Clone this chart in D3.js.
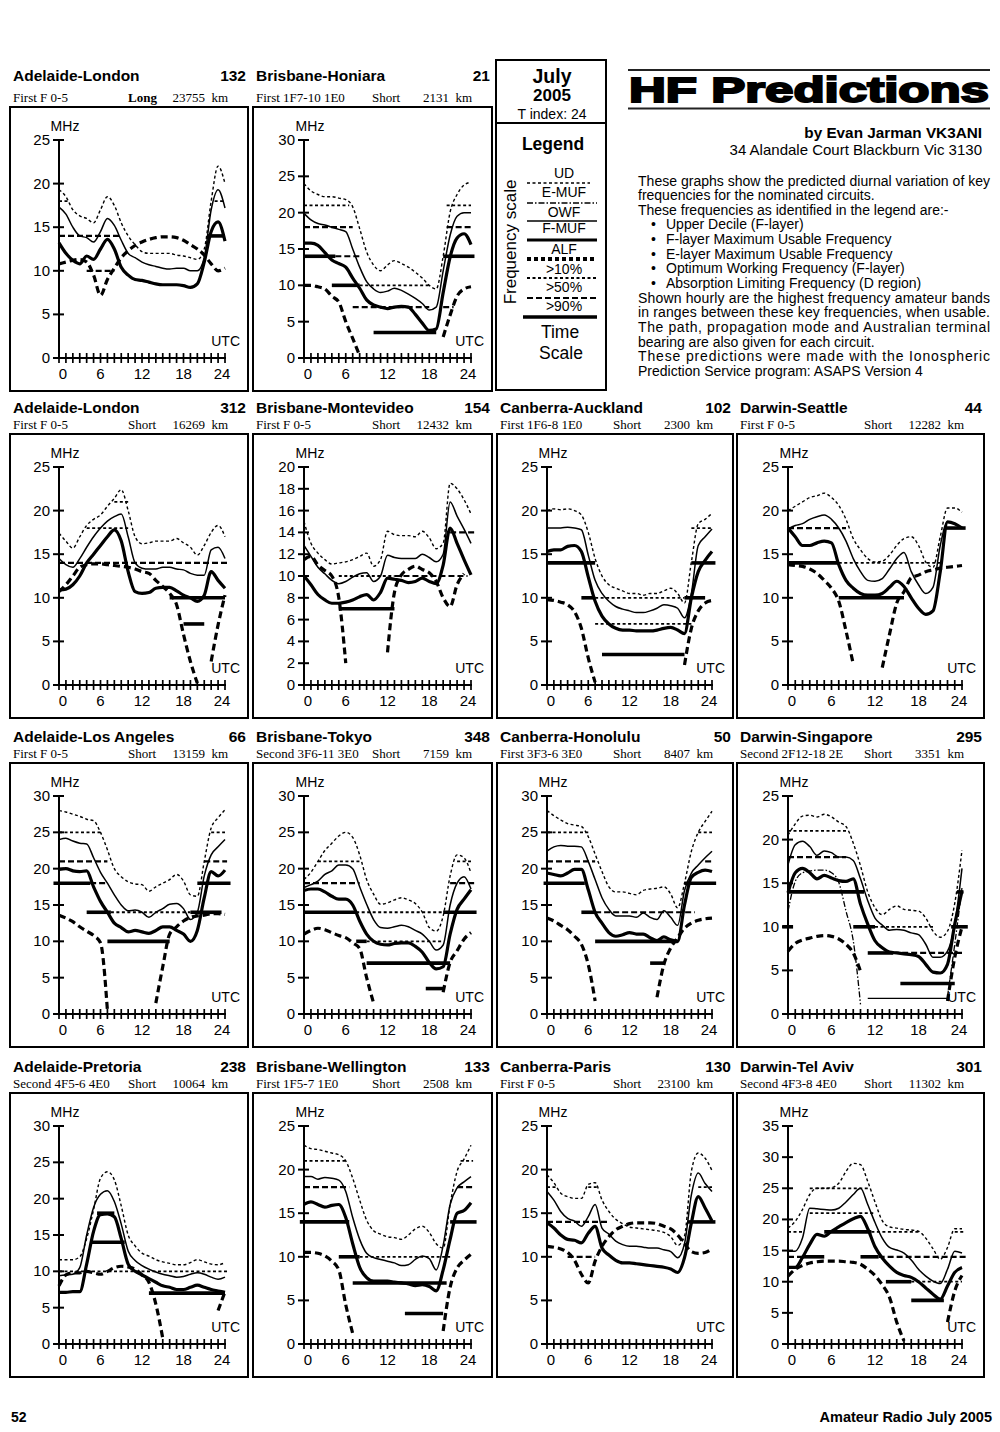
<!DOCTYPE html>
<html>
<head>
<meta charset="utf-8">
<script src="https://cdn.jsdelivr.net/npm/d3@7"></script>
<style>
  body { margin: 0; background: #fff; }
  svg text { font-family: "Liberation Sans", Arial, sans-serif; fill: #000; }
  .ttl { font-size: 15.5px; font-weight: bold; }
  .sub { font-family: "Liberation Serif", "Times New Roman", serif !important; font-size: 13px; }
  .tick { font-size: 15px; }
  .unit { font-size: 14px; }
  .para { font-size: 14px; }
</style>
</head>
<body>
<svg id="page" width="1000" height="1432"></svg>
<script>
// ---- circuit headers ----
var circuits  = ["Adelaide-London", "Brisbane-Honiara", "Adelaide-London", "Brisbane-Montevideo",
                 "Canberra-Auckland", "Darwin-Seattle", "Adelaide-Los Angeles", "Brisbane-Tokyo",
                 "Canberra-Honolulu", "Darwin-Singapore", "Adelaide-Pretoria", "Brisbane-Wellington",
                 "Canberra-Paris", "Darwin-Tel Aviv"];
var bearings  = ["132", "21", "312", "154", "102", "44", "66", "348", "50", "295", "238", "133", "130", "301"];
var modes     = ["First F 0-5", "First 1F7-10 1E0", "First F 0-5", "First F 0-5", "First 1F6-8 1E0",
                 "First F 0-5", "First F 0-5", "Second 3F6-11 3E0", "First 3F3-6 3E0", "Second 2F12-18 2E",
                 "Second 4F5-6 4E0", "First 1F5-7 1E0", "First F 0-5", "Second 4F3-8 4E0"];
var paths     = ["Long", "Short", "Short", "Short", "Short", "Short", "Short", "Short", "Short", "Short",
                 "Short", "Short", "Short", "Short"];
var distances = ["23755", "2131", "16269", "12432", "2300", "12282", "13159", "7159", "8407", "3351",
                 "10064", "2508", "23100", "11302"];
var yMaxes    = [25, 30, 25, 20, 25, 25, 30, 30, 30, 25, 30, 25, 25, 35];
var yTickSteps = [5, 5, 5, 2, 5, 5, 5, 5, 5, 5, 5, 5, 5, 5];
var xTickLabels = [0, 6, 12, 18, 24];
var hours = d3.range(25);

// ---- hourly key frequencies, MHz (hours 0..24) ----
var udValues = [
  [19.3,18.5,17,16.3,16,15.5,17,18.5,17.5,15.5,14,13,12.2,12,12,12,12,11.8,11.7,11.5,11.3,12.5,18,22,20],
  [24,23,22.5,22.2,22.2,22,21.8,20.8,17.8,14.6,12.8,12,12.8,13.4,13,12.5,11.8,11,10,9.5,14,20.1,22.5,23.8,24.2],
  [17.4,16.5,15.7,17,18.3,19,19.5,20.5,21.4,22.4,20,17,16.2,16.3,16.5,16.5,16.5,16.8,16.3,15.8,14.9,16,17.5,18.3,17],
  [15,13,12.1,11.5,11.1,11.2,11.3,11.5,11.8,12.1,10.9,11.5,14.1,13.8,13.7,13.7,13.6,14.1,13.5,12.5,13,18.5,18,17,15.7],
  [20,20.2,20.1,20.2,20,19.5,17.5,14.5,12.5,11.5,11.1,10.8,10.5,10.5,10.3,10.5,10.5,10.8,11.1,10.5,9.4,14.1,18.5,19,19.7],
  [20,20.5,21,21.5,21.7,22,21.5,20.6,19,16.8,15.5,14.5,14.1,14.2,14.9,16,16.8,17,16,14.1,13.5,17,20.3,20.3,19.8],
  [28,27.8,27.5,27.2,26.8,26.6,25,22.6,20,18.9,18.2,17.9,17.8,16.9,17.5,18,18.5,19.2,18.3,16.4,16.2,21,25.6,27,28.1],
  [18.5,19.5,21,22.5,23.5,24.5,25,24.3,21.9,18.5,16.5,15.1,15.3,15.7,16,15.7,15.2,14,11.9,11.4,13.5,19,21.9,21.5,19.4],
  [28,27.3,26.7,26.2,26,25.8,24.4,22,19.6,17.5,16.8,16.8,16.6,16.4,17,17.2,17.3,17.5,16.5,14.6,18,22.4,25,26.5,27.9],
  [20.5,21.8,22.7,22.8,22.6,22.9,22.6,22,21.5,19.6,17,14,12.2,11.4,12,12.4,12,11.9,11.8,11,9.5,8.8,9.5,12.7,18.8],
  [11.6,11.6,11.6,12,14.5,18.5,22.8,23.7,22.6,19,15,13.5,12.5,12.1,11.6,11.3,11.1,10.9,10.9,11.2,11.6,11.3,11,10.9,11.2],
  [22.8,22.4,22.3,22.1,21.9,21.7,21,19,16.5,14.2,13,12.6,12.3,12.2,12,12.5,13.2,13.5,12.8,11.5,11,16,19.8,21.2,22.8],
  [19.4,18.5,17.3,16.9,16.7,16.7,18.3,18.5,16.5,15.2,14.3,13.8,13.4,13.3,13.2,13.1,13,12.8,12.3,11.3,12.4,19.8,21.9,21.3,19.9],
  [18.6,19.7,21.6,24,25,25,25.1,25.8,27.7,29,28.8,26.1,22.8,19.8,18.8,18.6,18.4,18.3,18.1,17,15.3,13.6,15.5,18.5,18.5]
];
var fmufValues = [
  [17.3,16.5,15,14,13.8,13.3,14.5,16,15.2,13.5,12,11.5,11,10.7,10.5,10.3,10.2,10.3,10.3,10,10,11.5,17,19.3,17.2],
  [19.9,19,18.5,18.3,18,17.7,17.4,15,12.5,10.5,9.5,9,9.2,9.6,9.3,8.8,8.2,7.5,6.6,7,12,16.9,19.5,20,20],
  [14.5,13.8,13.5,14.5,15.8,17,18,18.8,19.3,19.6,17,14,13.4,13.3,13.3,13.5,13.5,13.3,13.2,12.8,12.6,12.6,15.5,15.8,14.5],
  [12.8,11.8,10.8,10.2,9.6,9.3,9.5,9.9,10.2,10.3,9.5,10,11.9,11.7,11.6,11.6,11.6,12,11.7,11.3,12,16.8,15.5,14.3,13],
  [18,18,18,18.1,18,17.8,14.9,12,10.5,9.6,9,8.7,8.5,8.3,8.3,8.5,8.8,9.2,9.1,8.8,7.7,10.5,16,17,17.9],
  [17.9,18.3,18.5,19,19.3,19.5,19,18,16.5,14.5,13,12,11.9,12.2,13.3,14.5,15.2,13,11.5,10.5,11.2,16,18.7,18.5,18],
  [24,24.2,23.8,23.5,23.4,21.5,19.5,18,16.4,15,14.2,14.3,14,13.3,14,14.5,15.1,15.2,14.5,13,14,19,21.9,23,24],
  [17.4,17.8,18.3,19.2,19.7,20.5,20.5,20,17.5,15.1,13,11.9,11.8,12,12.2,12,11.5,11,10,8.8,9.5,15,18,18.9,17.2],
  [22.4,23,23.2,23.1,23.1,23,21,18.5,16,14.4,13.5,13.5,13.5,13.3,13.9,13.3,13,14.2,13.3,12.2,17,19.4,20.5,21.5,22.4],
  [17.1,19.4,19.8,19.2,18.2,18.7,18.5,18,18,17.6,15.5,13,11,10.2,9.6,9.7,9.6,9.3,9.1,8,6.5,6.5,7.2,10.3,16.7],
  [9.4,9.5,9.6,10.5,15,18.8,20.6,21.1,19.6,16.5,12.8,11.5,10.8,10.3,9.9,9.6,9.4,9.2,9.3,9.6,9.8,9.6,9.2,8.9,9.2],
  [19.2,19.2,18.9,19.1,19,18.8,17.5,14.5,12,10.4,9.9,9.7,9.5,9.3,9,9.1,9.7,10.1,9.8,8.5,11.3,16,17.9,18.6,19.2],
  [17.5,16.5,15.2,14.4,14.1,13.5,14.6,16,13.3,12.6,11.8,11.4,11.2,11.2,11.1,11,11,10.8,10.6,9.9,11.5,17.1,19.6,18.4,17.5],
  [14.9,14.9,17,21.8,21.7,21.6,21.5,21.8,22.8,24,25,22.4,19.5,17,15.5,15.1,14.6,13.5,12,10.9,10.1,9.7,12,14.9,14.6]
];
var owfValues = [
  [13.2,12,11.2,10.8,11.7,11.3,12.5,13.6,12.5,10.4,9.5,9,8.9,8.7,8.5,8.4,8.4,8.4,8.3,8.1,8.5,11,14.5,15.6,13.4],
  [15.8,15.8,15.5,14.5,13.5,13,12.5,11,9.6,8,7.3,7,6.8,7,7.1,7,6,4.8,3.8,4,9,13.9,16.5,17.1,15.6],
  [10.9,11,11.5,12.5,14,15,16,17,17.8,16.5,13,10.7,10.5,10.6,11.1,11.2,11.2,10.8,10.3,10,9.6,10.3,13,12,11.1],
  [10,9.2,8.3,7.8,7.5,7.5,7.6,7.8,8.1,8.3,7.8,8.5,9.8,9.7,9.6,9.4,9.5,9.8,9.5,9.3,11,14.4,13,11.5,10.1],
  [15.3,15.5,15.5,15.9,16,15.3,12.4,9.6,7.9,7,6.5,6.3,6.3,6.2,6.2,6.2,6.3,6.5,6.6,6.3,5.9,10,13,14.3,15.3],
  [18,17,16,16,16.3,16.5,16.3,13.8,12,11.1,10.5,10.3,10.3,10.5,11.2,11.9,11.3,10,8.8,8.1,8.5,13,18.7,18.5,18],
  [19.9,20,19.7,19.6,19.7,17.5,15.5,14,12.5,11.9,11.3,11.5,11.3,11.1,11.5,12,12,11.5,11,10,11.5,16,19.6,19,19.8],
  [17,17.2,17.2,16.8,16.2,15.8,15.8,15,12.8,11,10,9.6,9.5,9.7,9.8,9.8,9.3,8.5,7.1,6.2,6.5,11,14.4,15.8,17.1],
  [19.4,19.2,19,19.4,19.9,19.9,17.1,14,12.5,11.2,10.7,10.9,11.2,11,11,10.5,10.1,10.6,10.2,10,15,18.8,19.5,19.8,19.6],
  [13.9,16.2,16.7,16.2,15.5,15.9,15.6,15.3,15.2,15.5,12.6,10.3,8.4,7.6,7.1,7,6.9,6.8,6.6,5.7,4.8,4.7,5.7,10.3,14.1],
  [7.1,7.1,7.2,7.2,11,15.5,17.8,17.9,17.5,14.5,11,10,9.5,9,8.5,8,7.8,7.5,7.5,7.8,8.1,7.8,7.5,7.3,7.1],
  [16,16.3,16,15.7,15.9,16,14.5,11.5,8.8,7.6,7.2,7.2,7.2,7.1,7,6.9,6.7,6.8,6.6,6.1,8.5,12,15,15.3,16.2],
  [13.9,13.3,12.5,12,11.9,11.6,12.7,13.5,11,10.2,9.6,9.3,9.3,9.2,9.1,9,8.9,8.8,8.6,8.2,9.9,13.9,16.9,15.6,14.1],
  [12.3,12.3,13.9,16,17.6,17.3,18.1,18.8,19.5,20.1,20.5,18.5,15.6,13.8,12.5,11.5,11,10.7,10,9,8,7.2,9.3,11.5,12.3]
];
var N = null;
var alfValues = [
  [10.8,11,11.2,11.3,11,9.5,7.2,9,10.3,11.5,12.3,12.9,13.3,13.6,13.8,13.9,13.9,13.8,13.5,13,12.5,11.8,10.8,10,10.3],
  [10,10,9.8,9.5,8.5,7.7,5,2.7,0.3,N,N,N,N,N,N,N,N,N,N,N,2.9,5.9,8.5,9.5,9.8],
  [10.7,11.5,12.5,13.5,13.8,13.9,13.9,13.8,13.7,13.6,13.5,13.3,13,12.8,12,11.3,10.5,9.2,5.8,2.7,0.2,N,2.7,6.9,10.3],
  [11.5,11.8,11,10.5,10,8,2,N,N,N,N,N,3,8.5,10.1,10.6,10.9,10.6,10.3,9.5,8,7.2,9.2,10.2,N],
  [9.8,9.7,9.5,9.2,8.4,6.5,3.1,0.3,N,N,N,N,N,N,N,N,N,N,N,N,2.3,6.5,8.5,9.4,9.7],
  [13.8,13.7,13.6,13.3,12.8,12,11.1,9.6,6.2,2.4,N,N,N,2,5.8,9.4,10.7,12.3,12.6,13,13.2,13.4,13.5,13.6,13.7],
  [13.6,13.2,12.7,12,11.4,10.8,9.8,0.5,N,N,N,N,N,N,1.5,6.5,11,12,12.8,13.3,13.5,13.6,13.8,13.8,13.7],
  [11,11.5,11.8,11.6,11.2,10.8,10.5,9.8,9,5,1.5,N,N,N,N,N,N,N,N,N,3,7.1,8.7,10.3,11.2],
  [13.2,12.8,12.2,11.6,10.7,9.6,6.8,1.8,N,N,N,N,N,N,N,N,2.3,6.8,9.1,10.5,11.8,12.5,12.9,13.1,13.2],
  [7.2,8.1,8.5,8.7,8.9,9,8.9,8.6,8,7,4.9,N,N,N,N,N,N,N,N,N,N,N,1.5,6.5,10],
  [8,9.5,9.8,9.8,10,9.8,9.6,10,10.5,10.7,10.6,10.3,9.5,8.5,5.5,0.8,N,N,N,N,N,N,N,4.6,7.2],
  [10.5,10.5,10.4,10.1,9.5,8.5,4.5,1.2,N,N,N,N,N,N,N,N,N,N,N,N,1.5,6.5,8.7,9.6,10.3],
  [11.2,11.1,10.9,10.5,9.6,8,7,9.5,11.2,12.3,13.1,13.5,13.8,13.9,13.9,13.9,13.8,13.5,13.2,12.5,11.5,10.6,10.4,10.5,10.9],
  [10.9,12,12.6,13,13.2,13.3,13.3,13.3,13.2,13.1,12.8,12,11,9.5,7.5,3.5,0.5,N,N,N,N,N,3.5,8.5,11]
];
var emufValues = [
  N, N, N, N, N, N, N, N, N,
  [11.8,15.2,16.2,16.4,16.5,16.5,16.2,15.1,11.8,8.4,1.1,N,N,N,N,N,N,N,N,N,N,N,2,8,14.5],
  N, N, N, N
];

// ---- amateur band segments: [from hour, to hour, MHz, probability class] ----
var bandSegments = [
  [[0,9,14,50],[0,1.5,18,10],[4,8,10,50],[21.5,24,14,90],[22.5,24,18,10]],
  [[0,6.5,21,10],[20.5,24,21,10],[0,7,18,50],[20.5,24,18,50],[0,4.5,14,90],[4.5,8,14,50],[20,24.5,14,90],
   [4,8,10,90],[8,18,10,10],[7,18,7,50],[20,21.5,7,50],[10,19,3.5,90]],
  [[0,24.5,14,50],[4,10,18,10],[8,10,21,10],[16,24,10,90],[18,21,7,90]],
  [[5,13,10,10],[13,23.5,10,50],[21,24.5,14,50],[5,13,7,90]],
  [[0,7,14,90],[21,24.5,14,90],[21,24,18,10],[5,7,10,90],[7,20,10,10],[20,23,10,90],[7,21,7,10],[8,20,3.5,90]],
  [[0,8,18,50],[21.5,24.5,18,90],[0,7,14,90],[7,21,14,10],[7,16,10,90]],
  [[0,6,25,10],[22,24,25,10],[0,7,21,50],[21,24.3,21,50],[-0.8,4.5,18,90],[4.5,7,18,50],[20,24.8,18,90],
   [4,7.5,14,90],[7.5,19,14,10],[19,23.5,14,90],[7,16,10,90]],
  [[2,8,21,10],[22,24,21,10],[0,8,18,50],[21,24.5,18,50],[0,7.5,14,90],[7.5,20,14,10],[20,24.8,14,90],
   [7.5,9,10,90],[9,20,10,10],[9,21,7,90],[17.5,20,3.5,90]],
  [[0,6,25,10],[22,24,25,10],[0,7,21,50],[23,24,21,50],[-0.5,5.5,18,90],[20,24.6,18,90],[5,7,14,90],
   [7,21.5,14,50],[7,19,10,90],[15,17,7,90]],
  [[0,8,21,10],[0,8,18,50],[0,10.5,14,90],[23.3,24.2,14,90],[-0.8,0.7,10,90],[9,12,10,90],[12,20,10,10],
   [22.5,24.8,10,90],[11,14.5,7,90],[14.5,24,7,50],[15.5,23,3.5,90],[11,22,1.8,"t"]],
  [[0,24.3,10,10],[5.5,8,18,90],[4.5,9.5,14,90],[13,24,7,90]],
  [[0,6,21,10],[22.5,24.3,21,10],[0,6.5,18,50],[22,24.3,18,50],[-0.6,6.5,14,90],[21,24.8,14,90],
   [5,8,10,90],[8,21,10,10],[7,20.5,7,90],[14.5,20,3.5,90]],
  [[0,1.5,18,10],[6,7.5,18,10],[22,24,18,10],[0,9,14,50],[20.5,24.5,14,90],[3,7,10,50]],
  [[3,11,25,10],[3,12,21,10],[0,2,18,10],[5,11.5,18,90],[11.5,18,18,10],[23,24.5,18,10],[0,2,14,50],
   [2,5,14,90],[10,12.5,14,90],[12.5,24.5,14,50],[13.5,17,10,90],[17,24,10,10],[17,21.5,7,90]]
];

// ---- legend and text ----
var legendLabels = ["UD", "E-MUF", "OWF", "F-MUF", "ALF", ">10%", ">50%", ">90%"];
var legendStyles = ["ud", "emuf", "fmuf", "owf", "alfLegend", "b10", "b50", "b90"];
var bulletItems = ["Upper Decile (F-layer)", "F-layer Maximum Usable Frequency",
                   "E-layer Maximum Usable Frequency", "Optimum Working Frequency (F-layer)",
                   "Absorption Limiting Frequency (D region)"];

var styles = {
  ud:   {w: 1.4, dash: "3,2.5"},
  fmuf: {w: 1.5, dash: null},
  owf:  {w: 3.2, dash: null},
  alf:  {w: 3.2, dash: "7,4"},
  emuf: {w: 1.3, dash: "6,2,1.5,2"},
  alfLegend: {w: 4, dash: "4,3"},
  b10:  {w: 1.8, dash: "3,2.5"},
  b50:  {w: 2.2, dash: "6,3"},
  b90:  {w: 3.6, dash: null},
  bt:   {w: 1.3, dash: null}
};

var svg = d3.select("#page");
svg.append("rect").attr("width", 1000).attr("height", 1432).attr("fill", "#fff");

function styled(sel, st) {
  return sel.attr("fill", "none").attr("stroke", "#000")
    .attr("stroke-width", st.w)
    .attr("stroke-dasharray", st.dash);
}

// panel layout
var rowTops = [107, 434, 763, 1093];
var colLefts = [10, 253, 497, 737];
var colWidths = [238, 239, 236, 247];
var colAxis = [49, 51, 50, 51];
var colSpan = [166, 167, 165, 174];
var boxH = 284;

function drawPanel(i) {
  var row = i < 2 ? 0 : 1 + Math.floor((i - 2) / 4);
  var col = i < 2 ? i : (i - 2) % 4;
  var w = colWidths[col];
  var g = svg.append("g").attr("transform", "translate(" + colLefts[col] + "," + rowTops[row] + ")");

  // header
  var ty = row === 0 ? -26 : -21;
  g.append("text").attr("class", "ttl").attr("x", 3).attr("y", ty).text(circuits[i]);
  g.append("text").attr("class", "ttl").attr("x", w - 2).attr("y", ty)
    .attr("text-anchor", "end").text(bearings[i]);
  g.append("text").attr("class", "sub").attr("x", 3).attr("y", -5).text(modes[i]);
  g.append("text").attr("class", "sub").attr("x", w - 120).attr("y", -5)
    .style("font-weight", paths[i] === "Long" ? "bold" : null).text(paths[i]);
  g.append("text").attr("class", "sub").attr("x", w - 20).attr("y", -5)
    .attr("text-anchor", "end").text(distances[i] + "\u00a0\u00a0km");

  g.append("rect").attr("width", w).attr("height", boxH)
    .attr("fill", "none").attr("stroke", "#000").attr("stroke-width", 2);

  var x = d3.scaleLinear().domain([0, 24]).range([colAxis[col], colAxis[col] + colSpan[col]]);
  var y = d3.scaleLinear().domain([0, yMaxes[i]]).range([251, 33]);
  var ax = x(0), y0 = y(0);

  // y axis
  g.append("line").attr("x1", ax).attr("x2", ax).attr("y1", y(yMaxes[i])).attr("y2", y0)
    .attr("stroke", "#000").attr("stroke-width", 2);
  var yt = d3.range(0, yMaxes[i] + 0.01, yTickSteps[i]);
  g.selectAll(".yt").data(yt).enter().append("line")
    .attr("x1", ax - 6).attr("x2", ax + 5)
    .attr("y1", function(d) { return y(d); }).attr("y2", function(d) { return y(d); })
    .attr("stroke", "#000").attr("stroke-width", 2);
  g.selectAll(".yl").data(yt).enter().append("text").attr("class", "tick")
    .attr("x", ax - 9).attr("y", function(d) { return y(d) + 5; })
    .attr("text-anchor", "end").text(function(d) { return d; });
  g.append("text").attr("class", "unit").attr("x", ax + 6).attr("y", y(yMaxes[i]) - 9)
    .attr("text-anchor", "middle").text("MHz");

  // x axis
  g.append("line").attr("x1", ax).attr("x2", x(24) + 1).attr("y1", y0).attr("y2", y0)
    .attr("stroke", "#000").attr("stroke-width", 2);
  g.selectAll(".xt").data(hours).enter().append("line")
    .attr("x1", function(d) { return x(d); }).attr("x2", function(d) { return x(d); })
    .attr("y1", y0 - 5).attr("y2", y0 + 5)
    .attr("stroke", "#000").attr("stroke-width", 1.7);
  g.selectAll(".xl").data(xTickLabels).enter().append("text").attr("class", "tick")
    .attr("x", function(d) { return x(d) + (d === 0 ? 4 : d === 24 ? -3 : 0); })
    .attr("y", y0 + 21).attr("text-anchor", "middle").text(function(d) { return d; });
  g.append("text").attr("class", "unit").attr("x", w - 8).attr("y", y0 - 12)
    .attr("text-anchor", "end").text("UTC");

  // curves
  var line = d3.line()
    .defined(function(d) { return d != null; })
    .x(function(d, k) { return x(hours[k]); })
    .y(function(d) { return y(d); })
    .curve(d3.curveMonotoneX);
  var set = [[alfValues[i], "alf"], [udValues[i], "ud"], [fmufValues[i], "fmuf"], [owfValues[i], "owf"]];
  if (emufValues[i]) set.push([emufValues[i], "emuf"]);
  set.forEach(function(s) {
    styled(g.append("path").attr("d", line(s[0])), styles[s[1]]).attr("stroke-linejoin", "round");
  });

  // band segments
  bandSegments[i].forEach(function(b) {
    var st = styles[b[3] === "t" ? "bt" : "b" + b[3]];
    styled(g.append("line")
      .attr("x1", x(b[0])).attr("x2", x(b[1]))
      .attr("y1", y(b[2])).attr("y2", y(b[2])), st);
  });
}

d3.range(circuits.length).forEach(drawPanel);

// ---- date / legend box ----
var lg = svg.append("g");
lg.append("rect").attr("x", 496).attr("y", 60).attr("width", 110).attr("height", 330)
  .attr("fill", "none").attr("stroke", "#000").attr("stroke-width", 2);
lg.append("line").attr("x1", 496).attr("x2", 606).attr("y1", 123).attr("y2", 123)
  .attr("stroke", "#000").attr("stroke-width", 2);
lg.append("text").attr("x", 552).attr("y", 83).attr("text-anchor", "middle")
  .style("font-size", "19.5px").style("font-weight", "bold").text("July");
lg.append("text").attr("x", 552).attr("y", 101).attr("text-anchor", "middle")
  .style("font-size", "17px").style("font-weight", "bold").text("2005");
lg.append("text").attr("x", 552).attr("y", 119).attr("text-anchor", "middle")
  .style("font-size", "14px").text("T index: 24");
lg.append("text").attr("x", 553).attr("y", 150).attr("text-anchor", "middle")
  .style("font-size", "17.5px").style("font-weight", "bold").text("Legend");
lg.append("text").attr("transform", "translate(516,242) rotate(-90)").attr("text-anchor", "middle")
  .style("font-size", "17px").text("Frequency scale");

var labelY = [178, 197, 217, 233, 254, 274, 292, 311];
var lineY = [183, 203, 221, 240, 259, 278, 298, 317];
legendLabels.forEach(function(lab, k) {
  lg.append("text").attr("x", 564).attr("y", labelY[k]).attr("text-anchor", "middle")
    .style("font-size", "14px").text(lab);
  styled(lg.append("line").attr("x1", k === 7 ? 523 : 527).attr("x2", k < 1 ? 590 : 597)
    .attr("y1", lineY[k]).attr("y2", lineY[k]), styles[legendStyles[k]]);
});
lg.append("text").attr("x", 560).attr("y", 338).attr("text-anchor", "middle")
  .style("font-size", "17.5px").text("Time");
lg.append("text").attr("x", 561).attr("y", 359).attr("text-anchor", "middle")
  .style("font-size", "17.5px").text("Scale");

// ---- title block ----
var tb = svg.append("g");
tb.append("line").attr("x1", 628).attr("x2", 990).attr("y1", 70).attr("y2", 70)
  .attr("stroke", "#222").attr("stroke-width", 2.2);
tb.append("line").attr("x1", 628).attr("x2", 990).attr("y1", 108.5).attr("y2", 108.5)
  .attr("stroke", "#222").attr("stroke-width", 2.2);
tb.append("text").attr("x", 629).attr("y", 102)
  .attr("textLength", 360).attr("lengthAdjust", "spacingAndGlyphs")
  .style("font-size", "35px").style("font-weight", "bold")
  .attr("stroke", "#000").attr("stroke-width", 2).text("HF Predictions");
tb.append("text").attr("x", 982).attr("y", 138).attr("text-anchor", "end")
  .style("font-size", "15.3px").style("font-weight", "bold").text("by Evan Jarman VK3ANI");
tb.append("text").attr("x", 982).attr("y", 155).attr("text-anchor", "end")
  .style("font-size", "15px").text("34 Alandale Court Blackburn Vic 3130");

var paraTop = 185.5, paraStep = 14.65, paraLeft = 638, paraRight = 990;
function paraLine(k, txt, justify, indent) {
  var t = tb.append("text").attr("class", "para").attr("x", paraLeft + (indent || 0))
    .attr("y", paraTop + k * paraStep).text(txt);
  if (justify) t.attr("textLength", paraRight - paraLeft).attr("lengthAdjust", "spacing");
}
paraLine(0, "These graphs show the predicted diurnal variation of key", true);
paraLine(1, "frequencies for the nominated circuits.");
paraLine(2, "These frequencies as identified in the legend are:-");
bulletItems.forEach(function(b, k) {
  tb.append("text").attr("class", "para").attr("x", 651).attr("y", paraTop + (3 + k) * paraStep).text("\u2022");
  paraLine(3 + k, b, false, 28);
});
paraLine(8, "Shown hourly are the highest frequency amateur bands", true);
paraLine(9, "in ranges between these key frequencies, when usable.", true);
paraLine(10, "The path, propagation mode and Australian terminal", true);
paraLine(11, "bearing are also given for each circuit.");
paraLine(12, "These predictions were made with the Ionospheric", true);
paraLine(13, "Prediction Service program: ASAPS Version 4");

// ---- footer ----
svg.append("text").attr("x", 11).attr("y", 1422).style("font-size", "14px")
  .style("font-weight", "bold").text("52");
svg.append("text").attr("x", 992).attr("y", 1422).attr("text-anchor", "end")
  .style("font-size", "14.5px").style("font-weight", "bold").text("Amateur Radio July 2005");
</script>
</body>
</html>
